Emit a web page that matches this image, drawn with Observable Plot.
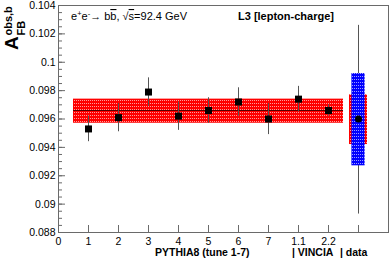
<!DOCTYPE html>
<html><head><meta charset="utf-8">
<script src="https://cdn.jsdelivr.net/npm/d3@7"></script>
<script src="https://cdn.jsdelivr.net/npm/@observablehq/plot@0.6"></script>
<style>
html,body{margin:0;padding:0;background:#fff;overflow:hidden;}
</style></head><body>
<div id="chart"></div>
<script>
// ---- data ----
const tuneX = [1, 2, 3, 4, 5, 6, 7, 8, 9];
const tuneNames = ["1", "2", "3", "4", "5", "6", "7", "1.1", "2.2"];
const tuneValues = [0.0953, 0.0961, 0.0979, 0.0962, 0.0966, 0.0972, 0.0960, 0.0974, 0.0966];
const tuneErrors = [0.0009, 0.0010, 0.0010, 0.0010, 0.0009, 0.0010, 0.0011, 0.0009, 0.0004];
const bandMean = 0.0966;
const bandLow = 0.0957;
const bandHigh = 0.0974;
const dataX = 10;
const dataValue = 0.0960;
const dataRedBox = [0.0942, 0.0977];
const dataBlueBox = [0.0927, 0.0992];
const dataErrBar = [0.0893, 0.1026];
const xTicks = [0, 1, 2, 3, 4, 5, 6, 7, 8, 9, 10];
const xTickLabels = ["0", "1", "2", "3", "4", "5", "6", "7", "1.1", "2.2", ""];
const yTicks = [0.088, 0.09, 0.092, 0.094, 0.096, 0.098, 0.1, 0.102, 0.104];
const yTickLabels = ["0.088", "0.09", "0.092", "0.094", "0.096", "0.098", "0.1", "0.102", "0.104"];

// ---- tables ----
const pythia = tuneX.map((x, i) => ({x, name: tuneNames[i], y: tuneValues[i], lo: tuneValues[i] - tuneErrors[i], hi: tuneValues[i] + tuneErrors[i]}));
const band = [{x1: d3.min(tuneX) - 0.5, x2: d3.max(tuneX) + 0.5, lo: bandLow, hi: bandHigh, mean: bandMean}];
const data = [{x: dataX, y: dataValue, rlo: dataRedBox[0], rhi: dataRedBox[1], blo: dataBlueBox[0], bhi: dataBlueBox[1], elo: dataErrBar[0], ehi: dataErrBar[1]}];
const xLab = new Map(xTicks.map((t, i) => [t, xTickLabels[i]]));
const yLab = new Map(yTicks.map((t, i) => [t, yTickLabels[i]]));
const yMinor = d3.ticks(0.088, 0.104, 40);

const axisColor = "#6a6a6a";
const chart = Plot.plot({
  width: 390, height: 262,
  marginLeft: 58, marginRight: 2, marginTop: 5, marginBottom: 30,
  x: {domain: [0, 11]},
  y: {domain: [0.088, 0.104]},
  style: {fontFamily: "'Liberation Sans', Arial, sans-serif", fontSize: "10.5px", color: "#000", background: "#fff", overflow: "visible"},
  marks: [
    Plot.rect(band, {x1: "x1", x2: "x2", y1: "lo", y2: "hi", fill: "url(#redDots)"}),
    Plot.ruleY(band, {x1: "x1", x2: "x2", y: "mean", stroke: "#5a0000", strokeWidth: 1}),
    Plot.ruleX(pythia, {x: "x", y1: "lo", y2: "hi", stroke: "#555", strokeWidth: 1}),
    Plot.ruleX(data, {x: "x", y1: "elo", y2: "ehi", stroke: "#555", strokeWidth: 1}),
    Plot.rect(data, {x1: d => d.x - 0.3, x2: d => d.x + 0.3, y1: "rlo", y2: "rhi", fill: "url(#redDots)"}),
    Plot.rect(data, {x1: d => d.x - 0.22, x2: d => d.x + 0.22, y1: "blo", y2: "bhi", fill: "url(#blueDots)"}),
    Plot.dot(pythia, {x: "x", y: "y", symbol: "square", r: 3.95, fill: "#000", stroke: "none"}),
    Plot.dot(data, {x: "x", y: "y", symbol: "circle", r: 3.5, fill: "#000", stroke: "none"}),
    Plot.axisY(yMinor, {tickSize: -4, tickFormat: () => "", label: null, stroke: axisColor}),
    Plot.axisY(yTicks, {tickSize: -7, tickPadding: 10, tickFormat: d => yLab.get(d), label: null, stroke: axisColor, fill: "#000"}),
    Plot.axisX(xTicks, {tickSize: -7, tickPadding: 12, tickFormat: d => xLab.get(d), label: null, stroke: axisColor, fill: "#000"}),
    Plot.frame({stroke: axisColor})
  ]
});

const svg = d3.select(chart);
const defs = svg.insert("defs", ":first-child");
const pr = defs.append("pattern").attr("id", "redDots").attr("patternUnits", "userSpaceOnUse").attr("width", 2).attr("height", 3);
pr.append("rect").attr("width", 2).attr("height", 3).attr("fill", "#ff0000");
pr.append("rect").attr("x", 0).attr("y", 1).attr("width", 1).attr("height", 1).attr("fill", "#ff9c9c");
const pb = defs.append("pattern").attr("id", "blueDots").attr("patternUnits", "userSpaceOnUse").attr("width", 2).attr("height", 3);
pb.append("rect").attr("width", 2).attr("height", 3).attr("fill", "#0000ff");
pb.append("rect").attr("x", 0).attr("y", 1).attr("width", 1).attr("height", 1).attr("fill", "#9c9cff");

const font = "'Liberation Sans', Arial, sans-serif";
function txt(parent, size, weight) {
  return parent.append("text")
    .style("font-family", font).style("font-size", size + "px").style("font-weight", weight)
    .style("text-anchor", "start").style("fill", "#000");
}
// y label
txt(svg, 19, "bold").attr("transform", "translate(17.5,50) rotate(-90)").text("A");
txt(svg, 11, "bold").attr("transform", "translate(12,35.5) rotate(-90)").text("obs,b");
txt(svg, 11, "bold").attr("transform", "translate(24.5,35.5) rotate(-90)").text("FB");

// top-left text
const t = txt(svg, 11, "normal").attr("x", 71).attr("y", 20);
t.append("tspan").text("e");
t.append("tspan").attr("dy", -4).style("font-size", "7.5px").text("+");
t.append("tspan").attr("dy", 4).text("e");
t.append("tspan").attr("dy", -4).style("font-size", "7.5px").text("-");
t.append("tspan").attr("dy", 4).text("\u2192 b");
t.append("tspan").style("text-decoration", "overline").text("b");
t.append("tspan").text(", \u221A");
t.append("tspan").style("text-decoration", "overline").text("s");
t.append("tspan").text("=92.4 GeV");

txt(svg, 11, "bold").attr("x", 238).attr("y", 20).text("L3 [lepton-charge]");

// x labels
txt(svg, 10.5, "bold").attr("x", 155).attr("y", 256).text("PYTHIA8 (tune 1-7)");
txt(svg, 10.5, "bold").attr("x", 292).attr("y", 256).text("| VINCIA");
txt(svg, 10.5, "bold").attr("x", 340).attr("y", 256).text("| data");

document.getElementById("chart").appendChild(chart);
</script>
</body></html>
